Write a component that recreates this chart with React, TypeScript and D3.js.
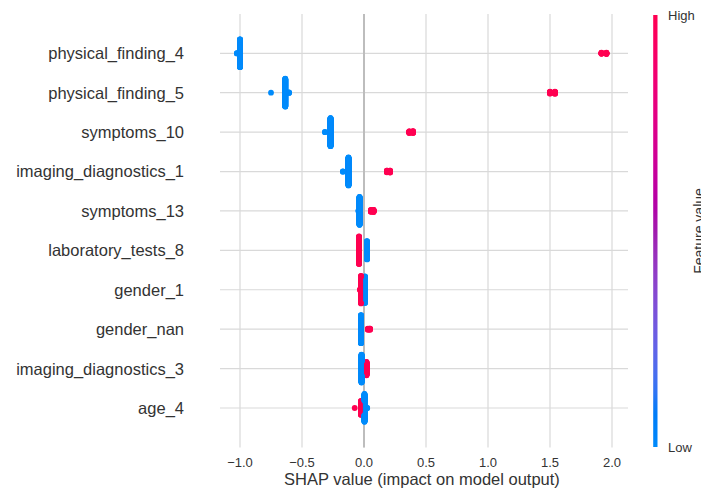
import React from "react";
import * as d3 from "d3";

// ---------- data ----------
const featureNames = [
  "physical_finding_4",
  "physical_finding_5",
  "symptoms_10",
  "imaging_diagnostics_1",
  "symptoms_13",
  "laboratory_tests_8",
  "gender_1",
  "gender_nan",
  "imaging_diagnostics_3",
  "age_4",
];

// [shap value, number of samples] for samples with LOW feature value (blue)
const lowShap: [number, number][][] = [
  [[-1.025, 3], [-1.0, 180]],
  [[-0.75, 1], [-0.635, 170], [-0.605, 4]],
  [[-0.315, 2], [-0.27, 175]],
  [[-0.17, 3], [-0.125, 172]],
  [[-0.045, 2], [-0.036, 172]],
  [[0.024, 80]],
  [[0.008, 97]],
  [[-0.024, 185]],
  [[-0.02, 135]],
  [[0.004, 130], [0.025, 3]],
];

// [shap value, number of samples] for samples with HIGH feature value (red)
const highShap: [number, number][][] = [
  [[1.915, 8], [1.955, 9]],
  [[1.5, 12], [1.54, 13]],
  [[0.365, 11], [0.395, 12]],
  [[0.185, 12], [0.21, 13]],
  [[0.056, 12], [0.077, 14]],
  [[-0.04, 120]],
  [[-0.032, 3], [-0.024, 100]],
  [[0.032, 7], [0.048, 8]],
  [[0.02, 65]],
  [[-0.075, 1], [-0.024, 66]],
];

const xTicks = [-1.0, -0.5, 0.0, 0.5, 1.0, 1.5, 2.0];
const xLabel = "SHAP value (impact on model output)";
const colorbarLabel = "Feature value";
const colorbarHigh = "High";
const colorbarLow = "Low";

// ---------- style ----------
const W = 701;
const H = 493;
const BLUE = "#008bfb";
const RED = "#ff0051";
const FONT = "'Liberation Sans', Arial, Helvetica, sans-serif";
const TEXT = "#333333";
const GRID = "#d9d9d9";

const plot = { left: 220, right: 628, top: 13.9, bottom: 447.4 };

type Pt = { v: number; high: boolean; y: number };

function buildPoints(low: [number, number][], high: [number, number][]): Pt[] {
  const groups = [
    ...low.map((g) => ({ v: g[0], n: g[1], high: false })),
    ...high.map((g) => ({ v: g[0], n: g[1], high: true })),
  ];
  const pts: Pt[] = [];
  const maxN = d3.max(groups, (g) => g.n) || 0;
  for (let k = 0; k < maxN; k++) {
    for (const g of groups) if (k < g.n) pts.push({ v: g.v, high: g.high, y: 0 });
  }
  // shap beeswarm layout
  const nbins = 100;
  const mn = d3.min(pts, (p) => p.v)!;
  const mx = d3.max(pts, (p) => p.v)!;
  const quant = pts.map((p) => Math.round((nbins * (p.v - mn)) / (mx - mn + 1e-8)));
  const inds = d3.range(pts.length).sort((a, b) => quant[a] - quant[b] || a - b);
  let layer = 0;
  let lastBin = -1;
  const ys = new Array(pts.length).fill(0);
  for (const ind of inds) {
    if (quant[ind] !== lastBin) layer = 0;
    ys[ind] = Math.ceil(layer / 2) * ((layer % 2) * 2 - 1);
    layer += 1;
    lastBin = quant[ind];
  }
  const m = d3.max(ys.map((y) => y + 1))!;
  const rowHeight = 0.4;
  ys.forEach((y, i) => (pts[i].y = y * 0.9 * (rowHeight / m)));
  return pts;
}

// shap-like red/blue colormap in LCh (L dips in the middle)
function redBlue(t: number): string {
  if (t <= 0) return BLUE;
  if (t >= 1) return RED;
  const l = t < 0.5 ? 54 - 14 * (t * 2) : 40 + 14 * ((t - 0.5) * 2);
  const c = 70 + 20 * t;
  const h = 266.9 + 113.4 * t;
  return d3.hcl(h, c, l).formatHex();
}

export default function App() {
  const n = featureNames.length;
  const x = d3.scaleLinear().domain([-1.1613, 2.129]).range([plot.left, plot.right]);
  const y = d3.scaleLinear().domain([-1, n]).range([plot.bottom, plot.top]);
  const fmt = d3.format(".1f");
  const cbTop = 15;
  const cbBottom = 447;
  const stops = d3.range(0, 1.0001, 0.025);

  const rows = featureNames.map((name, i) => {
    const pos = n - 1 - i;
    return { name, pos, pts: buildPoints(lowShap[i], highShap[i]) };
  });

  return (
    <svg
      width={W}
      height={H}
      style={{ position: "absolute", left: 0, top: 0, background: "#fff" }}
      fontFamily={FONT}
    >
      <defs>
        <linearGradient id="cb" x1="0" y1="1" x2="0" y2="0">
          {stops.map((t) => (
            <stop key={t} offset={t} stopColor={redBlue(t)} />
          ))}
        </linearGradient>
      </defs>
      <rect width={W} height={H} fill="#fff" />
      {/* vertical grid */}
      {xTicks.map((t) => (
        <line
          key={"vg" + t}
          x1={x(t)}
          x2={x(t)}
          y1={plot.top}
          y2={plot.bottom}
          stroke={GRID}
          strokeWidth={1.2}
        />
      ))}
      {/* horizontal grid */}
      {rows.map((r) => (
        <line
          key={"hg" + r.name}
          x1={plot.left}
          x2={plot.right}
          y1={y(r.pos)}
          y2={y(r.pos)}
          stroke={GRID}
          strokeWidth={1.2}
        />
      ))}
      {/* zero line */}
      <line x1={x(0)} x2={x(0)} y1={plot.top} y2={plot.bottom} stroke="#bdbdbd" strokeWidth={2} />
      {/* points */}
      {rows.map((r) => (
        <g key={"p" + r.name}>
          {r.pts.map((p, j) => (
            <circle
              key={j}
              cx={x(p.v)}
              cy={y(r.pos + p.y)}
              r={2.9}
              fill={p.high ? RED : BLUE}
            />
          ))}
        </g>
      ))}
      {/* y labels */}
      {rows.map((r) => (
        <text
          key={"yl" + r.name}
          x={184}
          y={y(r.pos)}
          dy="0.36em"
          textAnchor="end"
          fontSize={16.5}
          fill={TEXT}
        >
          {r.name}
        </text>
      ))}
      {/* x tick labels */}
      {xTicks.map((t) => (
        <text key={"xt" + t} x={x(t)} y={466.5} textAnchor="middle" fontSize={13} fill={TEXT}>
          {fmt(t)}
        </text>
      ))}
      <text x={(plot.left + plot.right) / 2 - 2} y={485} textAnchor="middle" fontSize={16.5} fill={TEXT}>
        {xLabel}
      </text>
      {/* colorbar */}
      <rect x={653.2} y={cbTop} width={4.3} height={cbBottom - cbTop} fill="url(#cb)" />
      <text x={668} y={cbTop} dy="0.36em" fontSize={13} fill={TEXT}>
        {colorbarHigh}
      </text>
      <text x={668} y={cbBottom} dy="0.36em" fontSize={13} fill={TEXT}>
        {colorbarLow}
      </text>
      <text
        transform={`translate(704, ${(cbTop + cbBottom) / 2}) rotate(-90)`}
        textAnchor="middle"
        fontSize={14}
        fill={TEXT}
      >
        {colorbarLabel}
      </text>
    </svg>
  );
}
